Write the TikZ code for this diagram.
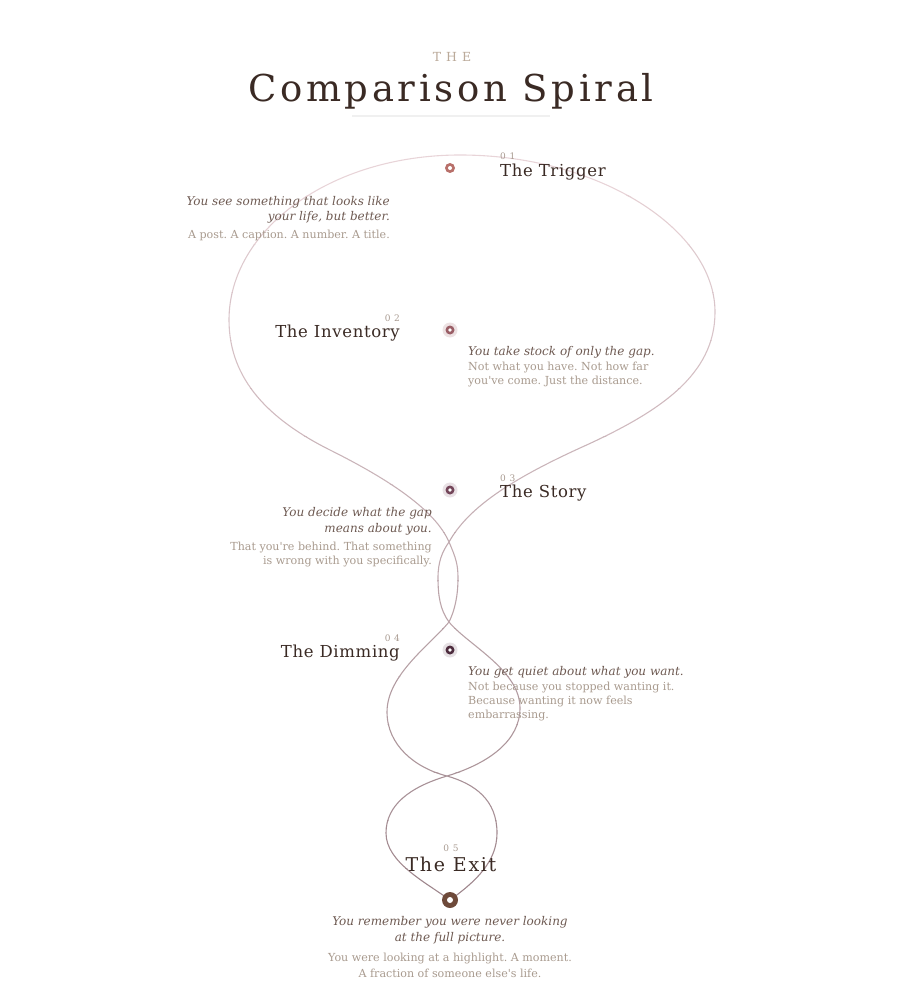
\documentclass[tikz,border=0pt]{standalone}
\usepackage{fontspec}
\setmainfont{DejaVu Serif}
\newfontfamily\titlefont[LetterSpace=10]{DejaVu Serif}
\newfontfamily\headfont[LetterSpace=4]{DejaVu Serif}
\newfontfamily\exitfont[LetterSpace=9]{DejaVu Serif}
\newfontfamily\numfont[LetterSpace=40]{DejaVu Serif}
\newfontfamily\thefont[LetterSpace=40]{DejaVu Serif}
\newcommand{\apos}{\textquotesingle}
\frenchspacing
\definecolor{ink}{HTML}{3A2A24}
\definecolor{italink}{HTML}{6E5A52}
\definecolor{greyink}{HTML}{A89A8E}
\definecolor{numink}{HTML}{A89A90}
\definecolor{theink}{HTML}{BBAA9A}
\definecolor{curvetop}{HTML}{E8D4D8}
\definecolor{curvebot}{HTML}{9E868C}
\definecolor{mka}{HTML}{B8706A}
\definecolor{mkb}{HTML}{9A5E66}
\definecolor{mkc}{HTML}{74465A}
\definecolor{mkd}{HTML}{4E2C3E}
\definecolor{mke}{HTML}{6E4A3A}
\tikzset{
  num/.style={font=\numfont\fontsize{9}{11}\selectfont, text=numink, inner sep=0pt},
  head/.style={font=\headfont\fontsize{16.5}{20}\selectfont, text=ink, inner sep=0pt},
  ital/.style={font=\fontsize{12}{14}\selectfont\itshape\frenchspacing, text=italink, inner sep=0pt},
  grey/.style={font=\fontsize{11.1}{13}\selectfont\frenchspacing, text=greyink, inner sep=0pt},
  dot/.style={circle, inner sep=0pt, minimum size=#1},
}
\begin{document}
\begin{tikzpicture}[x=1pt,y=-1pt]
\useasboundingbox (0,0) rectangle (900,1000);
% spiral path
\path[save path=\spiralpath]
  (450,900) .. controls (425,882) and (386,862) .. (386,833)
  .. controls (386,805) and (410,787) .. (447,776)
  .. controls (490,763) and (520,740) .. (520,708)
  .. controls (520,670) and (468,645) .. (449,622)
  .. controls (440,610) and (438,595) .. (438,578)
  .. controls (438,562) and (442,552) .. (449,542)
  .. controls (468,508) and (510,480) .. (580,448)
  .. controls (660,412) and (715,375) .. (715,312)
  .. controls (715,230) and (600,155) .. (460,155)
  .. controls (330,155) and (229,230) .. (229,320)
  .. controls (229,380) and (270,420) .. (330,450)
  .. controls (390,480) and (435,510) .. (449,542)
  .. controls (456,558) and (458,565) .. (458,578)
  .. controls (458,595) and (455,610) .. (449,622)
  .. controls (430,645) and (387,675) .. (387,712)
  .. controls (387,745) and (415,768) .. (447,776)
  .. controls (475,784) and (497,800) .. (497,833)
  .. controls (497,862) and (475,882) .. (450,900);
\foreach \i in {0,...,15} {
  \pgfmathsetmacro\ya{148+\i*48}
  \pgfmathsetmacro\yb{\ya+48.6}
  \pgfmathtruncatemacro\pct{100*\i/15}
  \begin{scope}
    \clip (0,\ya) rectangle (900,\yb);
    \draw[line width=1.1pt, color=curvebot!\pct!curvetop, use path=\spiralpath];
  \end{scope}
}
% title
\node[font=\thefont\fontsize{12.5}{14}\selectfont, text=theink, anchor=base, inner sep=0pt] (the) at (452,61.5) {THE};
\node[font=\titlefont\fontsize{37}{40}\selectfont, text=ink, anchor=base, inner sep=0pt] (title) at (451,101.5) {Comparison Spiral};
\coordinate (ula) at (352,116);
\coordinate (ulb) at (550,116);
\draw[color=black!6, line width=1.2pt] (ula) -- (ulb);
% markers
\node[dot=10, fill=mka] (m1) at (450,168) {};
\node[dot=4, fill=white] (m1c) at (m1) {};
\node[dot=15, fill=mkb!18] (m2h) at (450,330) {};
\node[dot=9, fill=mkb] (m2) at (450,330) {};
\node[dot=3.6, fill=white] (m2c) at (m2) {};
\node[dot=15, fill=mkc!16] (m3h) at (450,490) {};
\node[dot=9, fill=mkc] (m3) at (450,490) {};
\node[dot=3.6, fill=white] (m3c) at (m3) {};
\node[dot=15, fill=mkd!14] (m4h) at (450,650) {};
\node[dot=9, fill=mkd] (m4) at (450,650) {};
\node[dot=3.6, fill=white] (m4c) at (m4) {};
\node[dot=16, fill=mke] (m5) at (450,900) {};
\node[dot=6, fill=white] (m5c) at (m5) {};
% 01
\node[num, anchor=base west] (n1) at (500,160) {01};
\node[head, anchor=base west] (h1) at (500,176.5) {The Trigger};
\node[ital, anchor=base east] (i1a) at (390,205.5) {You see something that looks like};
\node[ital, anchor=base east] (i1b) at (390,221) {your life, but better.};
\node[grey, anchor=base east] (g1a) at (390,239) {A post. A caption. A number. A title.};
% 02
\node[num, anchor=base east] (n2) at (400,321) {02};
\node[head, anchor=base east] (h2) at (400,337) {The Inventory};
\node[ital, anchor=base west] (i2a) at (468,355) {You take stock of only the gap.};
\node[grey, anchor=base west] (g2a) at (468,370.5) {Not what you have. Not how far};
\node[grey, anchor=base west] (g2b) at (468,384.5) {you\apos ve come. Just the distance.};
% 03
\node[num, anchor=base west] (n3) at (500,481) {03};
\node[head, anchor=base west] (h3) at (500,497) {The Story};
\node[ital, anchor=base east] (i3a) at (432,516) {You decide what the gap};
\node[ital, anchor=base east] (i3b) at (432,532) {means about you.};
\node[grey, anchor=base east] (g3a) at (432,550.5) {That you\apos re behind. That something};
\node[grey, anchor=base east] (g3b) at (432,564) {is wrong with you specifically.};
% 04
\node[num, anchor=base east] (n4) at (400,641) {04};
\node[head, anchor=base east] (h4) at (400,657.5) {The Dimming};
\node[ital, anchor=base west] (i4a) at (468,675) {You get quiet about what you want.};
\node[grey, anchor=base west] (g4a) at (468,690.5) {Not because you stopped wanting it.};
\node[grey, anchor=base west] (g4b) at (468,704.5) {Because wanting it now feels};
\node[grey, anchor=base west] (g4c) at (468,718.5) {embarrassing.};
% 05
\node[num, anchor=base] (n5) at (451,851) {05};
\node[font=\exitfont\fontsize{19}{22}\selectfont, text=ink, anchor=base, inner sep=0pt] (h5) at (451,871.5) {The Exit};
\node[ital, anchor=base] (i5a) at (450,925.5) {You remember you were never looking};
\node[ital, anchor=base] (i5b) at (450,941.5) {at the full picture.};
\node[grey, anchor=base] (g5a) at (450,961) {You were looking at a highlight. A moment.};
\node[grey, anchor=base] (g5b) at (450,977) {A fraction of someone else\apos s life.};
\end{tikzpicture}
\end{document}
